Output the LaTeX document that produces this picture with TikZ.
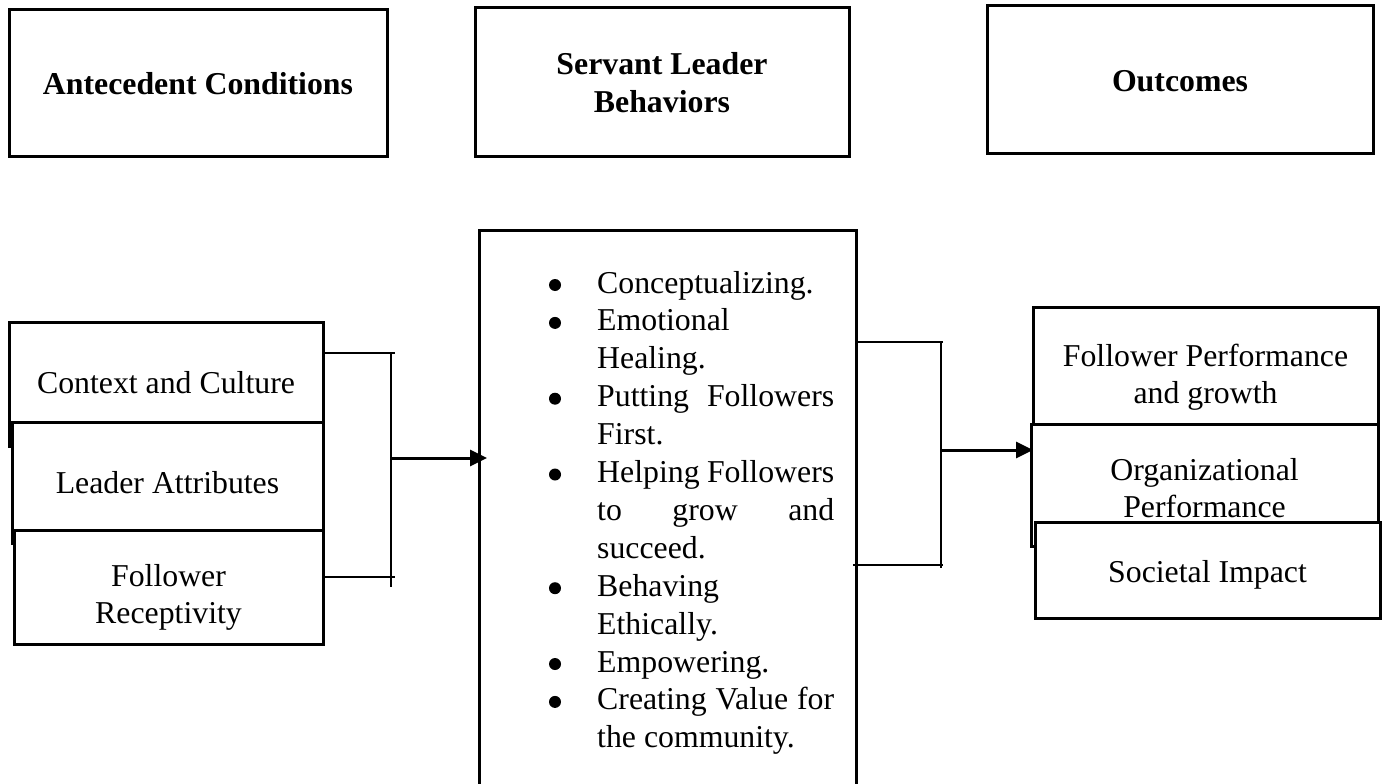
\documentclass[tikz,border=0pt]{standalone}
\usepackage{fontspec}
\setmainfont{Liberation Serif}
\usetikzlibrary{arrows.meta,positioning}

\newcommand{\twoline}[2]{\begin{tabular}[t]{@{}c@{}}#1\\#2\end{tabular}}

\begin{document}
\begin{tikzpicture}[x=1pt,y=-1pt,
    box/.style={draw, line width=3pt, fill=white, anchor=north west,
      inner sep=0pt, outer sep=0pt},
    lbl/.style={anchor=base, inner sep=0pt, font=\fontsize{31.8pt}{37pt}\selectfont},
    head/.style={lbl, font=\fontsize{31.8pt}{37pt}\selectfont\bfseries},
    itemtext/.style={anchor=base west, inner sep=0pt,
      font=\fontsize{31.8pt}{37.9pt}\selectfont},
    brace/.style={line width=1.8pt},
    link/.style={line width=3pt, -{Triangle[length=17pt,width=16pt]}}]
  \useasboundingbox (0,0) rectangle (1385,784);
  \clip (0,0) rectangle (1385,784);

  % headings
  \node[box, minimum width=378pt, minimum height=146pt] (ante) at (9,10) {};
  \node[head] (anteT) at ([yshift=-85pt]ante.north) {Antecedent Conditions};
  \node[box, minimum width=374pt, minimum height=148pt] (serv) at (475,8) {};
  \node[head] (servT) at ([yshift=-67pt]serv.north) {\twoline{Servant Leader}{Behaviors}};
  \node[box, minimum width=386pt, minimum height=147pt] (outc) at (987,6) {};
  \node[head] (outcT) at ([yshift=-86pt]outc.north) {Outcomes};

  % antecedents
  \node[box, minimum width=314pt, minimum height=124pt] (ctx) at (9,322) {};
  \node[lbl] (ctxT) at ([yshift=-71pt]ctx.north) {Context and Culture};
  \node[box, minimum width=311pt, minimum height=121pt] (lead) at (12,422) {};
  \node[lbl] (leadT) at ([yshift=-71pt]lead.north) {Leader Attributes};
  \node[box, minimum width=309pt, minimum height=114pt] (recp) at (14,530) {};
  \node[lbl] (recpT) at ([yshift=-56pt]recp.north) {\twoline{Follower}{Receptivity}};

  % behaviors
  \node[box, minimum width=377pt, minimum height=600pt] (behav) at (479,230) {};
  \foreach \i in {0,1,3,5,8,10,11}
    \fill (555,285+37.9*\i) circle (6);
  \node[itemtext] (items) at (597,293) {\begin{tabular}[t]{@{}l@{}}
      Conceptualizing.\\
      Emotional\\
      Healing.\\
      \makebox[237pt][s]{Putting Followers}\\
      First.\\
      \makebox[237pt][s]{Helping Followers}\\
      \makebox[237pt][s]{to grow and}\\
      succeed.\\
      Behaving\\
      Ethically.\\
      Empowering.\\
      \makebox[237pt][s]{Creating Value for}\\
      the community.
    \end{tabular}};

  % outcomes
  \node[box, minimum width=345pt, minimum height=131pt] (fperf) at (1033,307) {};
  \node[lbl] (fperfT) at ([yshift=-59pt]fperf.north) {\twoline{Follower Performance}{and growth}};
  \node[box, minimum width=347pt, minimum height=122pt] (operf) at (1031,424) {};
  \node[lbl] (operfT) at ([yshift=-56pt]operf.north) {\twoline{Organizational}{Performance}};
  \node[box, minimum width=345pt, minimum height=96pt] (simp) at (1035,522) {};
  \node[lbl] (simpT) at ([yshift=-60pt]simp.north) {Societal Impact};

  % left bracket
  \coordinate (ltop) at (391,353);
  \coordinate (lbot) at (391,577);
  \coordinate (lmid) at (391,458);
  \draw[brace] (ctx.east |- ltop) -- ([xshift=4pt]ltop);
  \draw[brace] (recp.east |- lbot) -- ([xshift=4pt]lbot);
  \draw[brace] (ltop) -- ([yshift=-10pt]lbot);
  \draw[link] (lmid) -- ([xshift=8pt]behav.west |- lmid);

  % right bracket
  \coordinate (rtop) at (941,342);
  \coordinate (rbot) at (941,565);
  \coordinate (rmid) at (941,450);
  \draw[brace] (behav.east |- rtop) -- ([xshift=2pt]rtop);
  \draw[brace] ([xshift=-3pt]behav.east |- rbot) -- ([xshift=2pt]rbot);
  \draw[brace] (rtop) -- ([yshift=-3pt]rbot);
  \draw[link] (rmid) -- (fperf.west |- rmid);
\end{tikzpicture}
\end{document}
